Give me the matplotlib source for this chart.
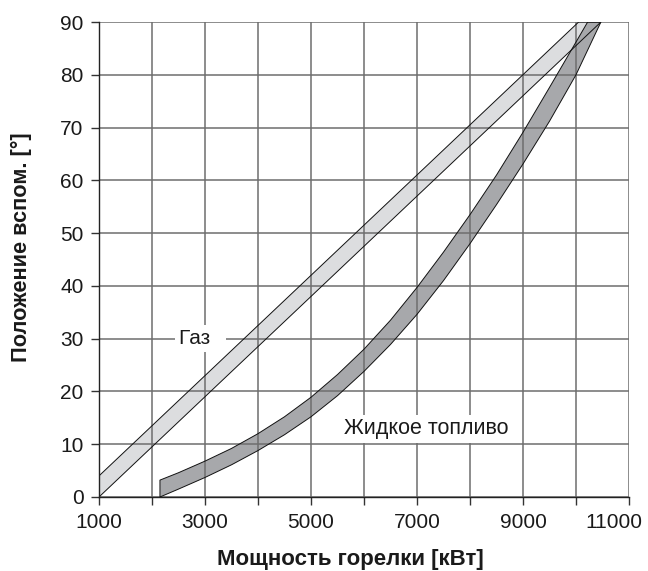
import numpy as np
import matplotlib
matplotlib.use("Agg")
import matplotlib.pyplot as plt
import matplotlib.transforms as mtransforms

plt.rcParams['font.family'] = ['Liberation Sans', 'DejaVu Sans']

# ---- data ----
gas_upper_x = [1000, 3000, 5000, 10050]
gas_upper_y = [4.0, 23.0, 42.0, 90.0]
gas_lower_x = [1000, 3000, 5000, 10470]
gas_lower_y = [0.0, 19.0, 38.0, 90.0]

oil_upper_x = [2150, 2500, 3000, 3500, 4000, 4500, 5000, 5500, 6000, 6500,
               7000, 7500, 8000, 8500, 9000, 9500, 10000, 10220]
oil_upper_y = [3.2, 4.6, 6.8, 9.2, 12.0, 15.2, 18.9, 23.2, 28.0, 33.5,
               39.7, 46.4, 53.5, 61.0, 69.1, 77.6, 86.2, 90.0]
oil_lower_x = [2150, 2500, 3000, 3500, 4000, 4500, 5000, 5500, 6000, 6500,
               7000, 7500, 8000, 8500, 9000, 9500, 10000, 10470]
oil_lower_y = [0.0, 1.5, 3.7, 6.1, 8.8, 11.8, 15.2, 19.2, 23.8, 28.9,
               34.6, 41.0, 48.0, 55.4, 63.1, 71.2, 80.0, 90.0]

x_ticks = list(range(1000, 11001, 1000))
x_ticklabels = [str(v) if (v // 1000) % 2 == 1 else '' for v in x_ticks]
y_ticks = list(range(0, 91, 10))

xlabel = 'Мощность горелки [кВт]'
ylabel = 'Положение вспом. [°]'
gas_label = 'Газ  '
oil_label = 'Жидкое топливо'

# ---- figure ----
W, H = 648, 571
fig = plt.figure(figsize=(W / 100, H / 100), dpi=100)
ax = fig.add_axes([99 / W, 74 / H, 530 / W, 475 / H])
ax.set_xlim(1000, 11000)
ax.set_ylim(0, 90)

grid_c = '#6e6e6e'
light = '#dcdddf'
dark = '#a7a8ab'

# fills
gx = np.concatenate([gas_upper_x, gas_lower_x[::-1]])
gy = np.concatenate([gas_upper_y, gas_lower_y[::-1]])
ax.fill(gx, gy, color=light, lw=0, zorder=1)
ox = np.concatenate([oil_upper_x, oil_lower_x[::-1]])
oy = np.concatenate([oil_upper_y, oil_lower_y[::-1]])
ax.fill(ox, oy, color=dark, lw=0, zorder=1.1)

# grid
for v in x_ticks:
    ax.axvline(v, color=grid_c, lw=1.1, zorder=2)
for v in y_ticks:
    ax.axhline(v, color=grid_c, lw=1.1, zorder=2)

# outlines
ax.fill(gx, gy, facecolor='none', edgecolor='#111111', lw=0.7, zorder=3)
ax.fill(ox, oy, facecolor='none', edgecolor='#111111', lw=0.7, zorder=3)

# labels inside
ax.text(2504, 30, gas_label, fontsize=15, ha='left', va='center', zorder=5,
        color='#1a1a1a',
        bbox=dict(boxstyle='square,pad=0.2', fc='white', ec='none'))
ax.text(7170, 12.9, oil_label, fontsize=15.5, ha='center', va='center', zorder=5,
        color='#1a1a1a',
        bbox=dict(boxstyle='square,pad=0.15', fc='white', ec='none'))

ax.set_xticks(x_ticks)
ax.set_xticklabels(x_ticklabels)
ax.set_yticks(y_ticks)
ax.tick_params(axis='both', direction='out', length=6, width=1.0, color='#333333',
               labelsize=15, labelcolor='#1a1a1a')
ax.tick_params(axis='x', pad=5.5)
ax.tick_params(axis='y', pad=5)
# last x label sits shifted left to stay inside the picture
last = ax.get_xticklabels()[-1]
last.set_transform(last.get_transform() +
                   mtransforms.ScaledTranslation(-0.15, 0, fig.dpi_scale_trans))

for s in ['top', 'right']:
    ax.spines[s].set_visible(False)
for s in ['left', 'bottom']:
    ax.spines[s].set_color('#222222')
    ax.spines[s].set_linewidth(1.0)
    ax.spines[s].set_zorder(4)

fig.text(217 / W, 6.5 / H, xlabel, fontsize=16, fontweight='bold',
         ha='left', va='baseline', color='#1a1a1a')
fig.text(21 / W, (H - 362) / H, ylabel, fontsize=15.7, fontweight='bold',
         rotation=90, ha='center', va='bottom', color='#1a1a1a')

fig.savefig('out.png', dpi=100)
